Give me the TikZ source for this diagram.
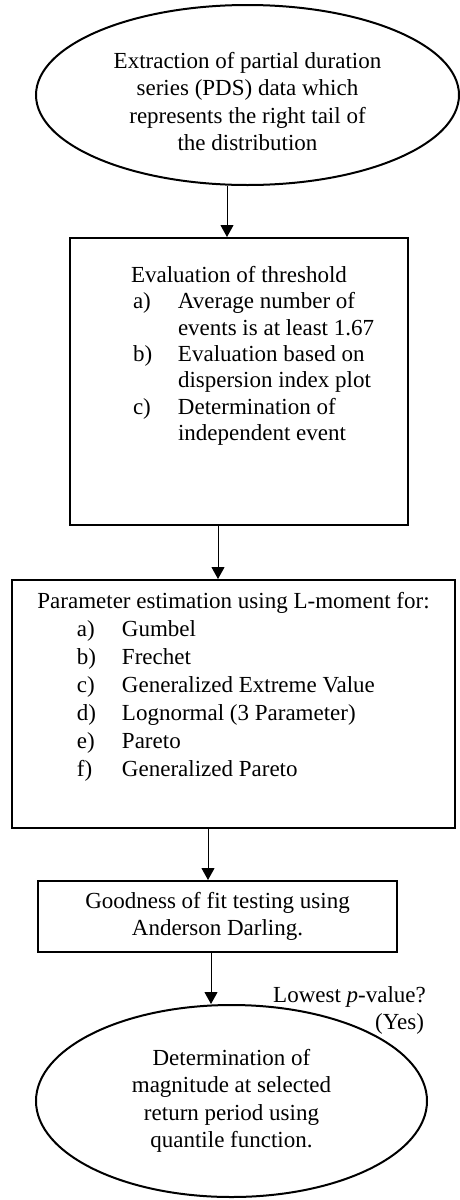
\documentclass[tikz,border=0pt]{standalone}
\usepackage{fontspec}
\setmainfont{Liberation Serif}
\usetikzlibrary{shapes.geometric,arrows.meta}

\begin{document}
\begin{tikzpicture}[x=1pt,y=-1pt,
  every node/.style={font=\fontsize{23}{27.5}\selectfont},
  oval/.style={draw,ellipse,line width=2pt,inner sep=0pt,align=center},
  stepbox/.style={draw,rectangle,line width=2pt,inner sep=0pt},
  flow/.style={line width=1pt,-{Triangle[length=12pt,width=13pt]}}]
\useasboundingbox (0,0) rectangle (459,1200);
% start and end of the procedure
\node[oval, minimum width=423pt, minimum height=180pt, text height=112pt] (extract) at (247.5,95) {Extraction of partial duration\\series (PDS) data which\\represents the right tail of\\the distribution};
\node[oval, minimum width=391pt, minimum height=192pt] (quantile) at (231.5,1101) {Determination of\\magnitude at selected\\return period using\\quantile function.};
% steps
\node[stepbox] (thresh) at (239,381.5) {\begin{minipage}[c][287pt][t]{338pt}\fontsize{23}{26.3}\selectfont
\vspace*{28.3pt}\centering Evaluation of threshold\par
\raggedright\hspace*{63pt}\begin{tabular}[t]{@{}p{45pt}@{}l@{}}
a) & Average number of\\
   & events is at least 1.67\\
b) & Evaluation based on\\
   & dispersion index plot\\
c) & Determination of\\
   & independent event
\end{tabular}
\end{minipage}};
\node[stepbox] (lmom) at (233.5,704) {\begin{minipage}[c][248pt][t]{443pt}\fontsize{23}{28}\selectfont
\vspace*{12.3pt}\centering Parameter estimation using L-moment for:\par
\raggedright\hspace*{65pt}\begin{tabular}[t]{@{}p{45pt}@{}l@{}}
a) & Gumbel\\
b) & Frechet\\
c) & Generalized Extreme Value\\
d) & Lognormal (3 Parameter)\\
e) & Pareto\\
f) & Generalized Pareto
\end{tabular}
\end{minipage}};
\node[stepbox, align=center, minimum width=359pt, minimum height=71pt] (gof) at (217.5,916.5) {Goodness of fit testing using\\Anderson Darling.};
\node[inner sep=0pt, anchor=north west, align=left] (lowest) at (273,986) {Lowest \textit{p}-value?\\\hspace*{102pt}(Yes)};
% connectors
\path[draw,flow] ([xshift=-20.5pt]extract.south) -- ([xshift=-12pt]thresh.north);
\path[draw,flow] ([xshift=-21pt]thresh.south) -- ([xshift=-15.5pt]lmom.north);
\path[draw,flow] ([xshift=-25.5pt]lmom.south) -- ([xshift=-9.5pt]gof.north);
\path[draw,flow] ([xshift=-6.5pt]gof.south) -- ([xshift=-20.5pt]quantile.north);
\end{tikzpicture}
\end{document}
